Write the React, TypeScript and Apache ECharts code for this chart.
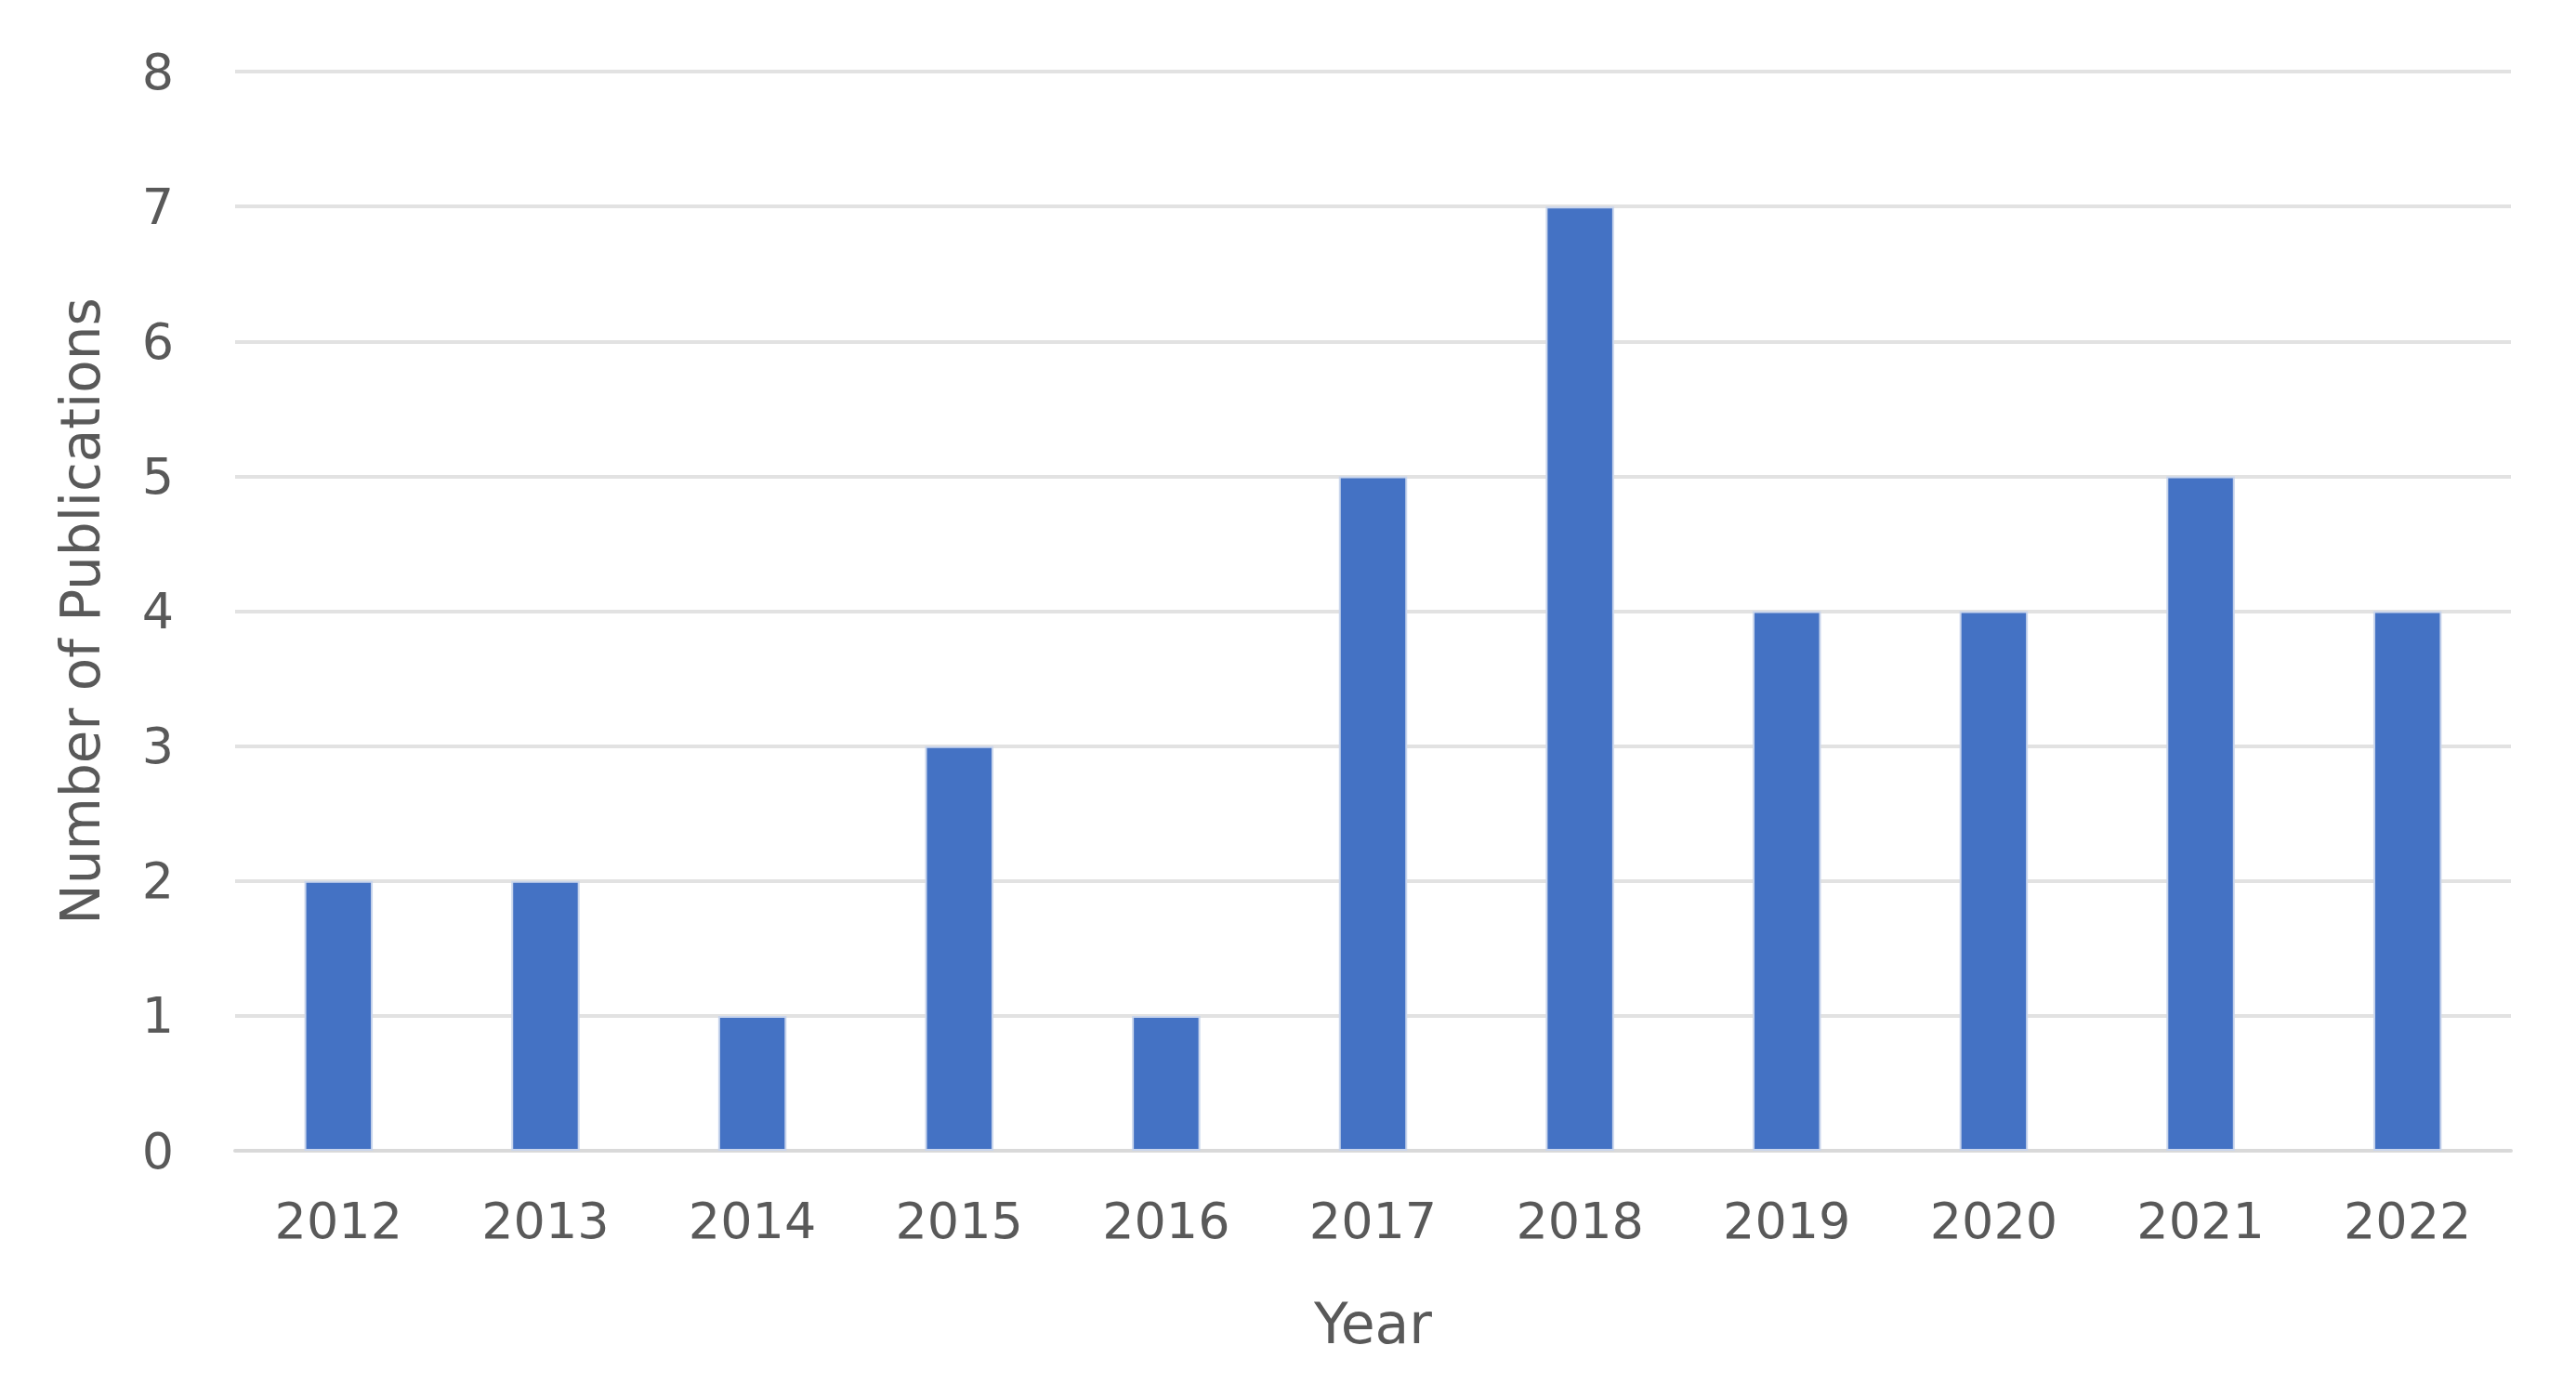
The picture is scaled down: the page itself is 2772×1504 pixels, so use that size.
import React, { useEffect, useRef } from "react";
import * as echarts from "echarts";

const years = ["2012", "2013", "2014", "2015", "2016", "2017", "2018", "2019", "2020", "2021", "2022"];
const publications = [2, 2, 1, 3, 1, 5, 7, 4, 4, 5, 4];

const FONT = "DejaVu Sans";
const TEXT = "#595959";

export default function App() {
  const ref = useRef<HTMLDivElement>(null);
  useEffect(() => {
    document.body.style.margin = "0";
    const chart = echarts.init(ref.current!, null, { renderer: "svg" });
    chart.setOption({
      animation: false,
      backgroundColor: "#ffffff",
      grid: { left: 253, right: 70, top: 77, bottom: 266 },
      xAxis: {
        type: "category",
        data: years,
        name: "Year",
        nameLocation: "middle",
        nameGap: 156,
        nameTextStyle: { fontFamily: FONT, fontSize: 60, color: TEXT },
        axisLine: { lineStyle: { color: "#d9d9d9", width: 4 } },
        axisTick: { show: false },
        axisLabel: { fontFamily: FONT, fontSize: 54, color: TEXT, margin: 48 },
      },
      yAxis: {
        type: "value",
        min: 0,
        max: 8,
        interval: 1,
        name: "Number of Publications",
        nameLocation: "middle",
        nameGap: 137,
        nameTextStyle: { fontFamily: FONT, fontSize: 58, color: TEXT },
        axisLine: { show: false },
        axisTick: { show: false },
        axisLabel: { fontFamily: FONT, fontSize: 54, color: TEXT, margin: 66 },
        splitLine: { lineStyle: { color: "#e2e2e2", width: 4 } },
      },
      series: [
        {
          type: "bar",
          data: publications,
          barWidth: "33%",
          itemStyle: { color: "#4472c4", borderColor: "#c9d5ec", borderWidth: 2 },
        },
      ],
    });
    return () => chart.dispose();
  }, []);
  return <div ref={ref} style={{ width: 2772, height: 1504 }} />;
}
